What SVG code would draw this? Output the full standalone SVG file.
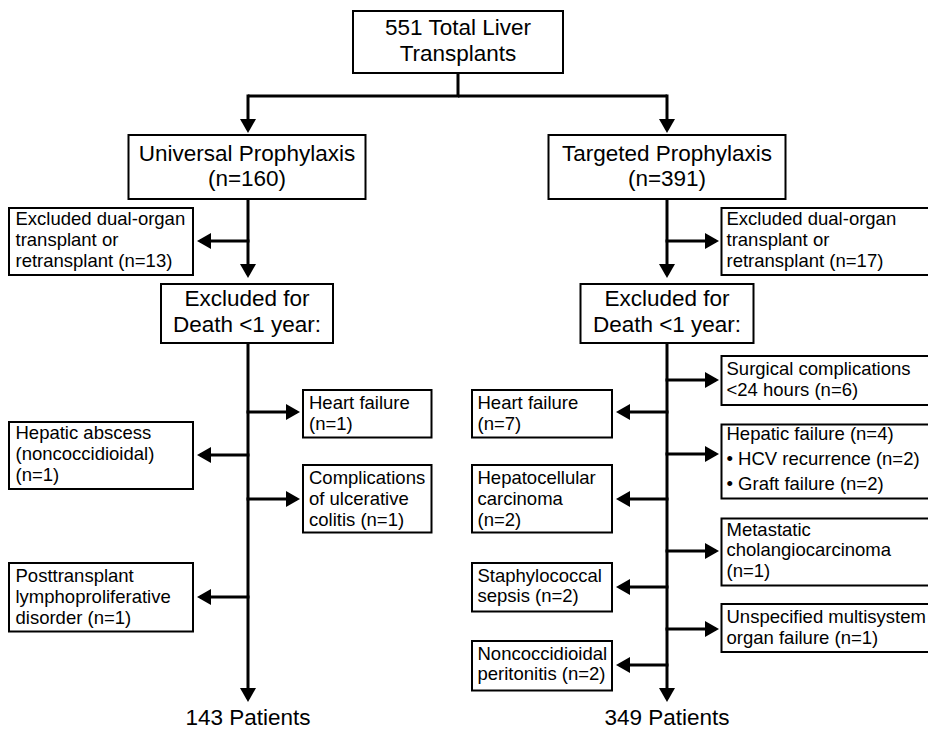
<svg xmlns="http://www.w3.org/2000/svg" width="928" height="730" viewBox="0 0 928 730">
<style>
rect.b{fill:#fff;stroke:#000;stroke-width:2}
text{font-family:"Liberation Sans",Arial,sans-serif;fill:#000}
.L{font-size:22.5px;text-anchor:middle}
.S{font-size:18.5px}
.c path{fill:none;stroke:#000;stroke-width:3}
.c path.a{marker-end:url(#ah)}
</style>
<defs>
<marker id="ah" markerUnits="userSpaceOnUse" viewBox="0 0 14 16" refX="11" refY="8" markerWidth="14" markerHeight="16" orient="auto">
<path d="M0,0 L14,8 L0,16 z" fill="#000"/>
</marker>
</defs>
<rect width="928" height="730" fill="#fff"/>
<g class="c" id="connectors">
<path d="M458,73 V96 H248"/>
<path d="M458,96 H667"/>
<path class="a" d="M248,94.5 V130"/>
<path class="a" d="M667,94.5 V130"/>
<path class="a" d="M248,199 V275"/>
<path class="a" d="M249.5,241 H200"/>
<path class="a" d="M667,199 V275"/>
<path class="a" d="M665.5,241 H716"/>
<path class="a" d="M248,343 V699"/>
<path class="a" d="M246.5,412 H297"/>
<path class="a" d="M249.5,455 H200"/>
<path class="a" d="M246.5,499 H297"/>
<path class="a" d="M249.5,597 H200"/>
<path class="a" d="M667,343 V699"/>
<path class="a" d="M665.5,380 H716"/>
<path class="a" d="M668.5,412 H619"/>
<path class="a" d="M665.5,454 H716"/>
<path class="a" d="M668.5,499 H619"/>
<path class="a" d="M665.5,551 H716"/>
<path class="a" d="M668.5,587 H619"/>
<path class="a" d="M665.5,629 H716"/>
<path class="a" d="M668.5,665 H619"/>
</g>
<g id="total"><rect class="b" x="353" y="11" width="210" height="62"/><text class="L" x="458" y="35">551 Total Liver</text><text class="L" x="458" y="61">Transplants</text></g>
<g id="universal"><rect class="b" x="128.5" y="135" width="237" height="64"/><text class="L" x="247" y="161">Universal Prophylaxis</text><text class="L" x="247" y="186">(n=160)</text></g>
<g id="targeted"><rect class="b" x="548.5" y="135" width="237" height="64"/><text class="L" x="667" y="161">Targeted Prophylaxis</text><text class="L" x="667" y="186">(n=391)</text></g>
<g id="excl-u" class="S"><rect class="b" x="9" y="208" width="184" height="67"/><text x="15.5" y="225">Excluded dual-organ</text><text x="15.5" y="246">transplant or</text><text x="15.5" y="267">retransplant (n=13)</text></g>
<g id="excl-t" class="S"><rect class="b" x="721.5" y="208" width="210" height="67"/><text x="726.5" y="225">Excluded dual-organ</text><text x="726.5" y="246">transplant or</text><text x="726.5" y="267">retransplant (n=17)</text></g>
<g id="death-u"><rect class="b" x="161" y="284" width="172" height="59"/><text class="L" x="247" y="306">Excluded for</text><text class="L" x="247" y="332">Death &lt;1 year:</text></g>
<g id="death-t"><rect class="b" x="580.5" y="284" width="173" height="59"/><text class="L" x="667" y="306">Excluded for</text><text class="L" x="667" y="332">Death &lt;1 year:</text></g>
<g id="u-heart" class="S"><rect class="b" x="303" y="390" width="128.5" height="47.5"/><text x="309" y="409">Heart failure</text><text x="309" y="430">(n=1)</text></g>
<g id="u-abscess" class="S"><rect class="b" x="9" y="422" width="184" height="67"/><text x="15.5" y="439">Hepatic abscess</text><text x="15.5" y="460">(noncoccidioidal)</text><text x="15.5" y="481">(n=1)</text></g>
<g id="u-colitis" class="S"><rect class="b" x="303" y="465" width="128.5" height="67.5"/><text x="309" y="483.5">Complications</text><text x="309" y="504.5">of ulcerative</text><text x="309" y="525.5">colitis (n=1)</text></g>
<g id="u-ptld" class="S"><rect class="b" x="9" y="563" width="184" height="68.5"/><text x="15.5" y="582">Posttransplant</text><text x="15.5" y="603">lymphoproliferative</text><text x="15.5" y="624">disorder (n=1)</text></g>
<g id="u-result"><text class="L" x="248" y="724.5">143 Patients</text></g>
<g id="t-surgical" class="S"><rect class="b" x="721.5" y="356" width="210" height="49"/><text x="726.5" y="375">Surgical complications</text><text x="726.5" y="396">&lt;24 hours (n=6)</text></g>
<g id="t-heart" class="S"><rect class="b" x="472" y="390" width="140" height="47.5"/><text x="477.5" y="409">Heart failure</text><text x="477.5" y="430">(n=7)</text></g>
<g id="t-hepatic" class="S"><rect class="b" x="721.5" y="424.5" width="210" height="74"/><text x="726.5" y="440">Hepatic failure (n=4)</text><text x="726.5" y="465">• HCV recurrence (n=2)</text><text x="726.5" y="490">• Graft failure (n=2)</text></g>
<g id="t-hcc" class="S"><rect class="b" x="472" y="465" width="140" height="67.5"/><text x="477.5" y="483.5">Hepatocellular</text><text x="477.5" y="504.5">carcinoma</text><text x="477.5" y="525.5">(n=2)</text></g>
<g id="t-chol" class="S"><rect class="b" x="721.5" y="518.5" width="210" height="67"/><text x="726.5" y="535.5">Metastatic</text><text x="726.5" y="556">cholangiocarcinoma</text><text x="726.5" y="577">(n=1)</text></g>
<g id="t-staph" class="S"><rect class="b" x="472" y="563" width="140" height="48.5"/><text x="477.5" y="582">Staphylococcal</text><text x="477.5" y="602">sepsis (n=2)</text></g>
<g id="t-multi" class="S"><rect class="b" x="721.5" y="604" width="210" height="48"/><text x="726.5" y="623">Unspecified multisystem</text><text x="726.5" y="643.5">organ failure (n=1)</text></g>
<g id="t-perit" class="S"><rect class="b" x="472" y="641" width="140" height="49.5"/><text x="477.5" y="659.5">Noncoccidioidal</text><text x="477.5" y="680">peritonitis (n=2)</text></g>
<g id="t-result"><text class="L" x="667" y="724.5">349 Patients</text></g>
</svg>
